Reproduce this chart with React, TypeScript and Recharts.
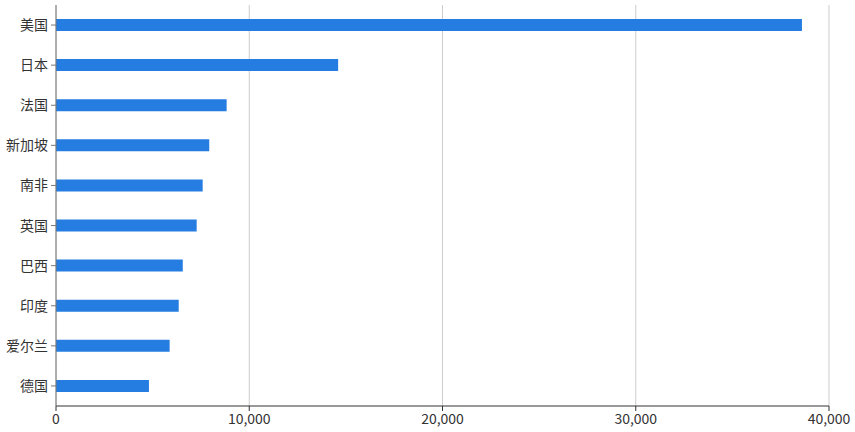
import React from 'react';
import { BarChart, Bar, XAxis, YAxis, CartesianGrid } from 'recharts';

const countries = ['美国', '日本', '法国', '新加坡', '南非', '英国', '巴西', '印度', '爱尔兰', '德国'];
const amounts = [38600, 14600, 8830, 7930, 7590, 7280, 6560, 6350, 5880, 4810];
const xTicks = [0, 10000, 20000, 30000, 40000];

const data = countries.map((name, i) => ({ name, value: amounts[i] }));

const FONT = '"Segoe UI", "Noto Sans CJK SC", "Noto Sans", sans-serif';

const App: React.FC = () => {
  return (
    <div style={{ position: 'absolute', left: 0, top: 0, background: '#fff' }}>
      <BarChart
        width={855}
        height={432}
        data={data}
        layout="vertical"
        margin={{ top: 5, right: 26, bottom: 0, left: 0 }}
      >
        <CartesianGrid horizontal={false} stroke="#cccccc" />
        <XAxis
          type="number"
          domain={[0, 40000]}
          ticks={xTicks}
          height={26}
          tickFormatter={(v: number) => v.toLocaleString('en-US')}
          stroke="#333333"
          tickSize={5}
          tickMargin={3}
          tick={{ fill: '#333333', fontSize: 14, fontFamily: FONT }}
          interval={0}
        />
        <YAxis
          type="category"
          dataKey="name"
          width={56}
          stroke="#777777"
          tickSize={5}
          tickMargin={3}
          tick={{ fill: '#333333', fontSize: 14, fontFamily: FONT }}
          interval={0}
        />
        <Bar dataKey="value" fill="#267de1" barSize={12} isAnimationActive={false} />
      </BarChart>
    </div>
  );
};

export default App;
